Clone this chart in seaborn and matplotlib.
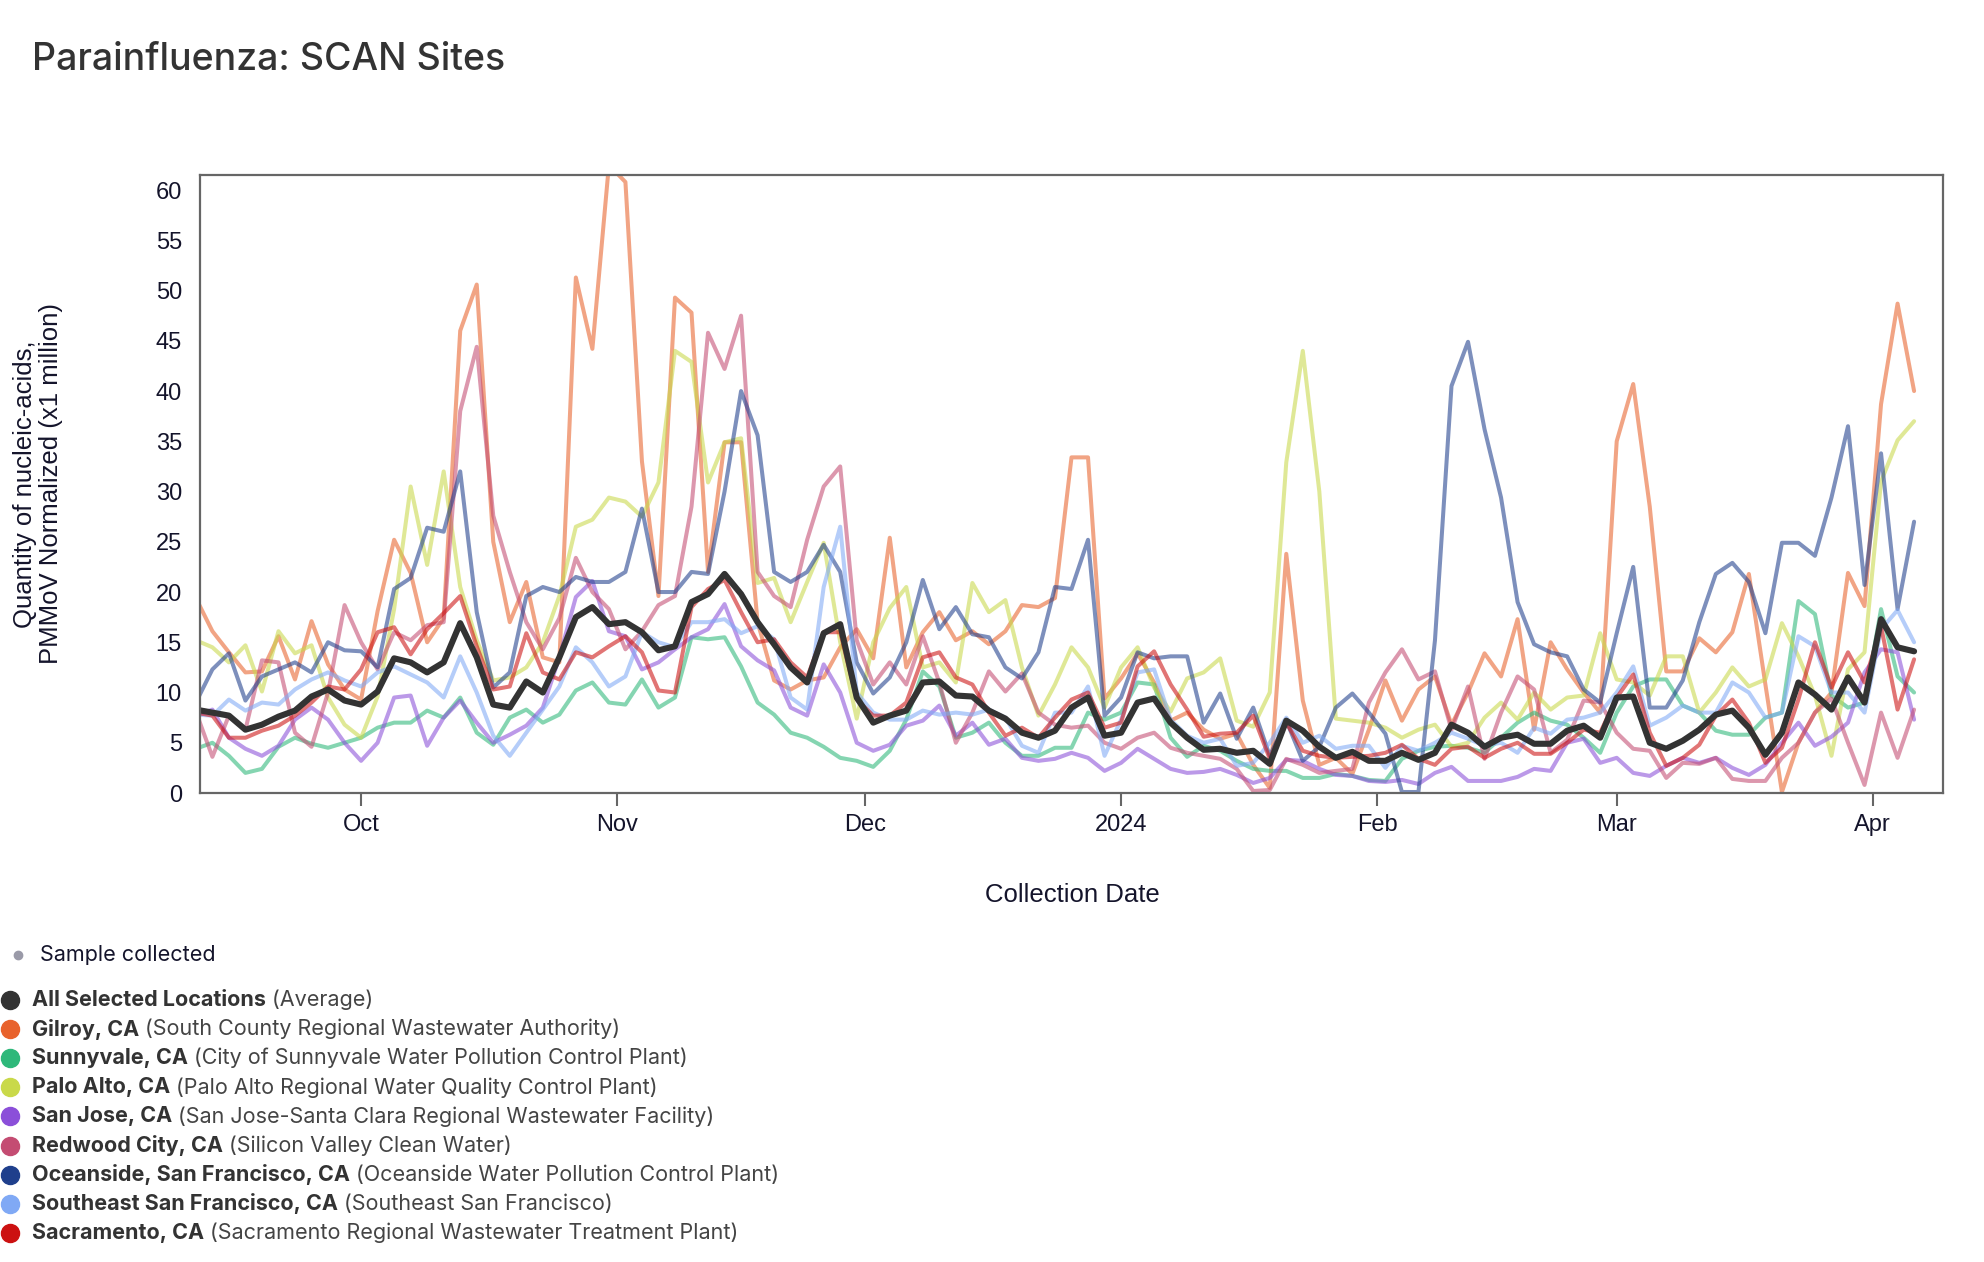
import pandas as pd
import seaborn as sns
import matplotlib.pyplot as plt
from matplotlib.lines import Line2D

# one value every 2 days, starting 2023-09-11
dates = pd.date_range("2023-09-11", periods=105, freq="2D")

average = [
    8.3, 8.0, 7.7, 6.3, 6.8, 7.6, 8.2, 9.6, 10.3, 9.2,
    8.8, 10.1, 13.4, 13.0, 12.0, 13.0, 16.9, 13.5, 8.8, 8.5,
    11.1, 10.0, 13.5, 17.5, 18.5, 16.8, 17.0, 16.0, 14.2, 14.6,
    19.0, 19.8, 21.8, 19.8, 17.0, 14.8, 12.5, 11.0, 15.9, 16.8,
    9.5, 7.0, 7.7, 8.2, 11.0, 11.1, 9.7, 9.6, 8.2, 7.4,
    6.0, 5.5, 6.2, 8.5, 9.5, 5.7, 6.0, 9.0, 9.4, 7.0,
    5.5, 4.3, 4.4, 4.0, 4.2, 2.9, 7.2, 6.2, 4.6, 3.5,
    4.1, 3.2, 3.2, 4.0, 3.3, 4.0, 6.8, 6.0, 4.6, 5.5,
    5.8, 4.9, 4.9, 6.2, 6.7, 5.5, 9.5, 9.6, 5.0, 4.4,
    5.2, 6.3, 7.8, 8.2, 6.5, 3.8, 6.0, 11.0, 9.8, 8.3,
    11.5, 9.0, 17.3, 14.5, 14.1,
]
gilroy = [
    19.4, 16.1, 14.0, 12.0, 12.1, 15.6, 11.3, 17.1, 12.8, 10.3,
    9.3, 18.1, 25.2, 21.9, 15.0, 17.4, 46.0, 50.6, 25.0, 17.0,
    21.0, 13.5, 13.0, 51.3, 44.2, 62.5, 60.8, 33.0, 19.6, 49.3,
    47.8, 22.0, 34.9, 34.9, 17.0, 11.2, 10.3, 11.2, 11.5, 14.5,
    16.3, 13.4, 25.4, 12.5, 16.0, 18.0, 15.2, 16.1, 14.8, 16.1,
    18.7, 18.5, 19.4, 33.4, 33.4, 9.4, 11.4, 13.9, 11.0, 7.2,
    8.0, 6.3, 5.4, 5.9, 2.8, 0.5, 23.8, 9.2, 2.8, 3.5,
    1.9, 6.3, 11.2, 7.2, 10.3, 11.6, 6.8, 10.0, 13.9, 11.6,
    17.3, 6.3, 15.0, 12.3, 10.0, 8.0, 35.0, 40.7, 28.5, 12.1,
    12.1, 15.4, 14.0, 16.0, 21.8, 10.8, 0.1, 5.0, 8.0, 10.0,
    21.9, 18.6, 38.7, 48.7, 40.0,
]
sunnyvale = [
    4.4, 5.0, 3.7, 2.0, 2.4, 4.6, 5.5, 4.9, 4.5, 5.0,
    5.5, 6.5, 7.0, 7.0, 8.2, 7.5, 9.5, 6.0, 4.8, 7.5,
    8.3, 7.0, 7.8, 10.2, 11.0, 9.0, 8.8, 11.3, 8.5, 9.5,
    15.5, 15.3, 15.5, 12.6, 9.0, 7.8, 6.0, 5.5, 4.6, 3.5,
    3.2, 2.6, 4.2, 7.3, 12.1, 10.6, 5.5, 6.0, 7.0, 5.0,
    3.7, 3.7, 4.5, 4.5, 8.0, 7.3, 8.0, 11.0, 10.8, 5.5,
    3.6, 4.7, 4.2, 3.2, 2.4, 2.2, 2.2, 1.5, 1.5, 1.9,
    1.7, 1.3, 1.2, 3.4, 4.2, 4.6, 4.7, 4.5, 4.0, 5.5,
    7.0, 8.0, 7.2, 6.8, 5.5, 4.0, 8.0, 10.6, 11.3, 11.3,
    8.7, 8.0, 6.2, 5.8, 5.8, 7.5, 8.0, 19.1, 17.8, 9.7,
    8.5, 9.0, 18.3, 11.6, 10.0,
]
palo_alto = [
    15.2, 14.5, 13.0, 14.7, 10.1, 16.1, 13.9, 14.7, 9.5, 6.8,
    5.5, 9.6, 18.3, 30.5, 22.7, 32.0, 20.5, 15.2, 11.2, 11.5,
    12.5, 15.0, 19.6, 26.5, 27.2, 29.4, 29.0, 27.5, 30.9, 44.0,
    42.9, 30.9, 34.9, 35.3, 20.9, 21.4, 17.0, 21.0, 24.9, 15.0,
    7.4, 15.0, 18.4, 20.5, 12.5, 13.0, 11.0, 20.9, 18.0, 19.2,
    12.5, 7.7, 10.8, 14.5, 12.5, 8.5, 12.5, 14.5, 10.5, 8.1,
    11.4, 12.0, 13.4, 7.2, 6.6, 10.0, 32.9, 44.0, 30.0, 7.4,
    7.2, 7.0, 6.5, 5.5, 6.3, 6.8, 4.6, 5.0, 7.5, 9.0,
    7.3, 10.0, 8.3, 9.5, 9.7, 15.9, 11.3, 11.0, 9.7, 13.6,
    13.6, 8.0, 10.0, 12.5, 10.6, 11.3, 16.9, 13.6, 9.7, 3.7,
    12.3, 14.0, 31.0, 35.1, 37.0,
]
san_jose = [
    7.7, 8.3, 5.5, 4.4, 3.7, 4.7, 7.3, 8.5, 7.3, 5.0,
    3.2, 5.0, 9.5, 9.7, 4.7, 7.5, 9.2, 7.0, 5.0, 5.8,
    6.7, 8.5, 13.5, 19.5, 21.1, 16.1, 15.6, 12.3, 13.0, 14.3,
    15.5, 16.3, 18.8, 14.6, 13.2, 12.2, 8.5, 7.7, 12.8, 10.0,
    5.0, 4.2, 4.8, 6.7, 7.2, 8.7, 5.7, 7.0, 4.8, 5.4,
    3.5, 3.2, 3.4, 4.0, 3.5, 2.2, 3.0, 4.4, 3.4, 2.4,
    2.0, 2.1, 2.4, 1.8, 1.0, 1.5, 3.3, 3.2, 2.4, 1.8,
    1.7, 1.2, 1.1, 1.3, 0.9, 2.0, 2.6, 1.2, 1.2, 1.2,
    1.6, 2.4, 2.2, 5.0, 5.4, 3.0, 3.5, 2.0, 1.7, 2.7,
    3.5, 3.0, 3.5, 2.5, 1.8, 2.8, 5.0, 7.0, 4.7, 5.6,
    7.0, 12.0, 14.3, 14.0, 7.3,
]
redwood_city = [
    8.1, 3.6, 7.7, 6.3, 13.2, 13.0, 6.0, 4.6, 10.0, 18.7,
    15.0, 12.3, 16.0, 15.2, 16.7, 17.0, 38.0, 44.4, 27.6, 22.0,
    17.0, 14.3, 17.4, 23.4, 20.0, 18.3, 14.3, 16.1, 18.7, 19.6,
    28.5, 45.8, 42.2, 47.5, 22.0, 19.6, 18.5, 25.2, 30.5, 32.5,
    15.2, 10.8, 13.0, 10.8, 15.6, 11.0, 5.0, 8.0, 12.1, 10.1,
    11.9, 8.0, 6.8, 6.5, 6.7, 5.0, 4.4, 5.5, 6.0, 4.5,
    4.0, 3.7, 3.4, 2.4, 0.2, 0.3, 3.4, 2.8, 2.0, 2.2,
    2.4, 9.0, 12.0, 14.3, 11.3, 12.1, 6.3, 10.6, 3.4, 8.0,
    11.6, 10.3, 4.0, 5.3, 9.2, 9.0, 6.0, 4.4, 4.2, 1.5,
    3.0, 2.9, 3.5, 1.4, 1.2, 1.2, 3.5, 5.0, 8.0, 9.4,
    5.0, 0.8, 8.0, 3.5, 8.3,
]
oceanside = [
    9.0, 12.3, 13.9, 9.2, 11.6, 12.3, 13.0, 12.0, 15.0, 14.2,
    14.1, 12.5, 20.3, 21.4, 26.4, 26.0, 32.0, 18.0, 10.5, 12.0,
    19.6, 20.5, 20.0, 21.5, 21.0, 21.0, 22.0, 28.3, 20.0, 20.0,
    22.0, 21.8, 30.0, 40.0, 35.6, 22.0, 21.0, 22.0, 24.7, 22.0,
    13.0, 9.9, 11.5, 15.0, 21.2, 16.3, 18.5, 15.8, 15.5, 12.5,
    11.4, 14.0, 20.5, 20.3, 25.2, 7.7, 9.5, 14.0, 13.4, 13.6,
    13.6, 7.0, 9.9, 5.4, 8.5, 3.7, 7.2, 3.2, 4.6, 8.5,
    9.9, 8.0, 5.9, 0.1, 0.1, 15.2, 40.5, 44.9, 36.2, 29.4,
    19.0, 14.8, 14.0, 13.6, 10.3, 9.0, 15.9, 22.5, 8.5, 8.5,
    11.2, 17.0, 21.8, 22.9, 21.0, 15.9, 24.9, 24.9, 23.6, 29.4,
    36.5, 20.7, 33.8, 18.3, 27.0,
]
southeast_sf = [
    7.8, 7.7, 9.3, 8.2, 9.0, 8.8, 10.3, 11.3, 12.0, 11.2,
    10.6, 12.0, 12.6, 11.8, 11.0, 9.5, 13.6, 10.0, 5.7, 3.7,
    6.0, 8.3, 10.6, 14.5, 13.0, 10.6, 11.6, 16.0, 15.0, 14.5,
    17.0, 17.0, 17.3, 15.9, 16.6, 15.3, 9.5, 8.3, 20.5, 26.5,
    10.0, 8.0, 7.3, 7.3, 8.2, 7.8, 8.0, 7.8, 8.3, 7.5,
    4.7, 4.0, 8.0, 8.0, 10.6, 3.7, 7.3, 12.0, 12.3, 7.3,
    5.7, 5.0, 5.4, 2.7, 3.0, 5.0, 7.5, 5.0, 5.7, 4.4,
    4.7, 4.7, 2.5, 4.7, 4.2, 5.0, 6.0, 5.4, 4.7, 5.0,
    4.0, 6.5, 5.9, 7.3, 7.5, 8.0, 10.0, 12.6, 6.7, 7.5,
    8.7, 8.0, 8.0, 11.0, 10.0, 7.5, 8.0, 15.6, 14.6, 10.0,
    10.0, 8.0, 16.3, 18.2, 15.0,
]
sacramento = [
    8.0, 7.7, 5.5, 5.5, 6.2, 6.7, 7.7, 9.0, 10.6, 10.3,
    12.3, 16.0, 16.5, 13.8, 16.3, 17.9, 19.6, 14.6, 10.3, 10.6,
    15.9, 12.0, 11.3, 14.0, 13.5, 14.6, 15.6, 14.0, 10.2, 10.0,
    18.5, 20.3, 21.2, 18.0, 15.0, 15.3, 13.0, 11.5, 16.0, 16.0,
    9.3, 7.7, 7.7, 9.0, 13.5, 14.0, 11.5, 10.8, 8.0, 5.7,
    6.5, 5.5, 7.5, 9.3, 10.0, 6.5, 7.0, 12.6, 14.1, 10.8,
    8.3, 5.6, 5.9, 6.0, 7.7, 3.4, 7.0, 4.2, 3.7, 3.5,
    3.6, 3.7, 4.0, 4.8, 3.4, 2.8, 4.4, 4.6, 3.5, 4.4,
    5.0, 3.9, 3.9, 5.0, 6.3, 6.0, 9.5, 11.8, 6.0, 2.7,
    3.5, 4.8, 7.7, 9.3, 7.0, 3.0, 4.5, 9.3, 15.0, 10.5,
    14.0, 11.0, 16.6, 8.3, 13.3,
]

site_names = [
    "Gilroy, CA", "Sunnyvale, CA", "Palo Alto, CA", "San Jose, CA",
    "Redwood City, CA", "Oceanside, San Francisco, CA",
    "Southeast San Francisco, CA", "Sacramento, CA",
]
site_plants = [
    "(South County Regional Wastewater Authority)",
    "(City of Sunnyvale Water Pollution Control Plant)",
    "(Palo Alto Regional Water Quality Control Plant)",
    "(San Jose-Santa Clara Regional Wastewater Facility)",
    "(Silicon Valley Clean Water)",
    "(Oceanside Water Pollution Control Plant)",
    "(Southeast San Francisco)",
    "(Sacramento Regional Wastewater Treatment Plant)",
]
site_values = [gilroy, sunnyvale, palo_alto, san_jose, redwood_city,
               oceanside, southeast_sf, sacramento]
site_colors = ["#E8622C", "#2EB87A", "#C9D94A", "#8B4FD9",
               "#C44C72", "#1F3F8C", "#80A9F5", "#CC1111"]
avg_color = "#333333"

tick_dates = ["2023-10-01", "2023-11-01", "2023-12-01", "2024-01-01",
              "2024-02-01", "2024-03-01", "2024-04-01"]
tick_labels = ["Oct", "Nov", "Dec", "2024", "Feb", "Mar", "Apr"]

for name, vals in zip(site_names, site_values):
    assert len(vals) == len(dates), name
assert len(average) == len(dates)

long_df = pd.concat(
    [pd.DataFrame({"date": dates, "value": vals, "site": name})
     for name, vals in zip(site_names, site_values)],
    ignore_index=True,
)

sns.set_theme(style="white")
plt.rcParams["font.family"] = ["Liberation Sans", "DejaVu Sans"]

W, H = 1984, 1262
fig = plt.figure(figsize=(W / 100, H / 100), dpi=100)
ax = fig.add_axes([200 / W, 1 - 793 / H, 1743 / W, 618 / H])

sns.lineplot(data=long_df, x="date", y="value", hue="site",
             hue_order=site_names, palette=dict(zip(site_names, site_colors)),
             alpha=0.58, linewidth=2.9, legend=False, ax=ax)
sns.lineplot(x=dates, y=average, color=avg_color, linewidth=4.4, ax=ax)

ax.set_xlim(pd.Timestamp("2023-09-11 12:00"), pd.Timestamp("2024-04-09 12:00"))
ax.set_ylim(0, 61.5)
ax.set_yticks(range(0, 61, 5))
ax.set_xticks(pd.to_datetime(tick_dates))
ax.set_xticklabels(tick_labels)
ax.set_xlabel("")
ax.set_ylabel("")

label_color = "#14142b"
ax.tick_params(axis="x", length=9, width=1.5, color="#666666",
               labelsize=17, labelcolor=label_color, pad=6, bottom=True)
ax.tick_params(axis="y", length=0, labelsize=17, labelcolor=label_color, pad=13)
for spine in ax.spines.values():
    spine.set_color("#666666")
    spine.set_linewidth(1.6)

ax_mid = 1 - (175 + 793) / 2 / H
fig.text(38 / W, ax_mid, "Quantity of nucleic-acids,\nPMMoV Normalized (x1 million)",
         rotation=90, ha="center", va="center", ma="center",
         fontsize=18.5, color=label_color, linespacing=1.1)
fig.text(1072 / W, 1 - 895 / H, "Collection Date", ha="center", va="center",
         fontsize=18.5, color=label_color)

fig.text(32 / W, 1 - 60 / H, "Parainfluenza: SCAN Sites", ha="left", va="center",
         fontsize=27, fontweight="medium", color="#333333",
         family=["Inter", "DejaVu Sans"])

# legend, drawn by hand
leg_font = ["Inter", "DejaVu Sans"]
fig.add_artist(Line2D([18 / W], [1 - 955 / H], marker="o", markersize=6,
                      color="#9a9aa8", transform=fig.transFigure))
fig.text(40 / W, 1 - 955 / H, "Sample collected", ha="left", va="center",
         fontsize=15.5, color="#14142b", family=leg_font)

leg_names = ["All Selected Locations"] + site_names
leg_details = ["(Average)"] + site_plants
leg_colors = [avg_color] + site_colors
for i, (name, detail, col) in enumerate(zip(leg_names, leg_details, leg_colors)):
    y = 1 - (1000 + i * 29.1) / H
    fig.add_artist(Line2D([10 / W], [y], marker="o", markersize=13,
                          color=col, transform=fig.transFigure))
    t = fig.text(32 / W, y, name, ha="left", va="center", fontsize=15.5,
                 fontweight="bold", color="#333333", family=leg_font)
    ax.annotate(" " + detail, xy=(1, 0.5), xycoords=t, ha="left", va="center",
                fontsize=15.5, color="#444444", family=leg_font)

fig.savefig("out.png", dpi=100)
